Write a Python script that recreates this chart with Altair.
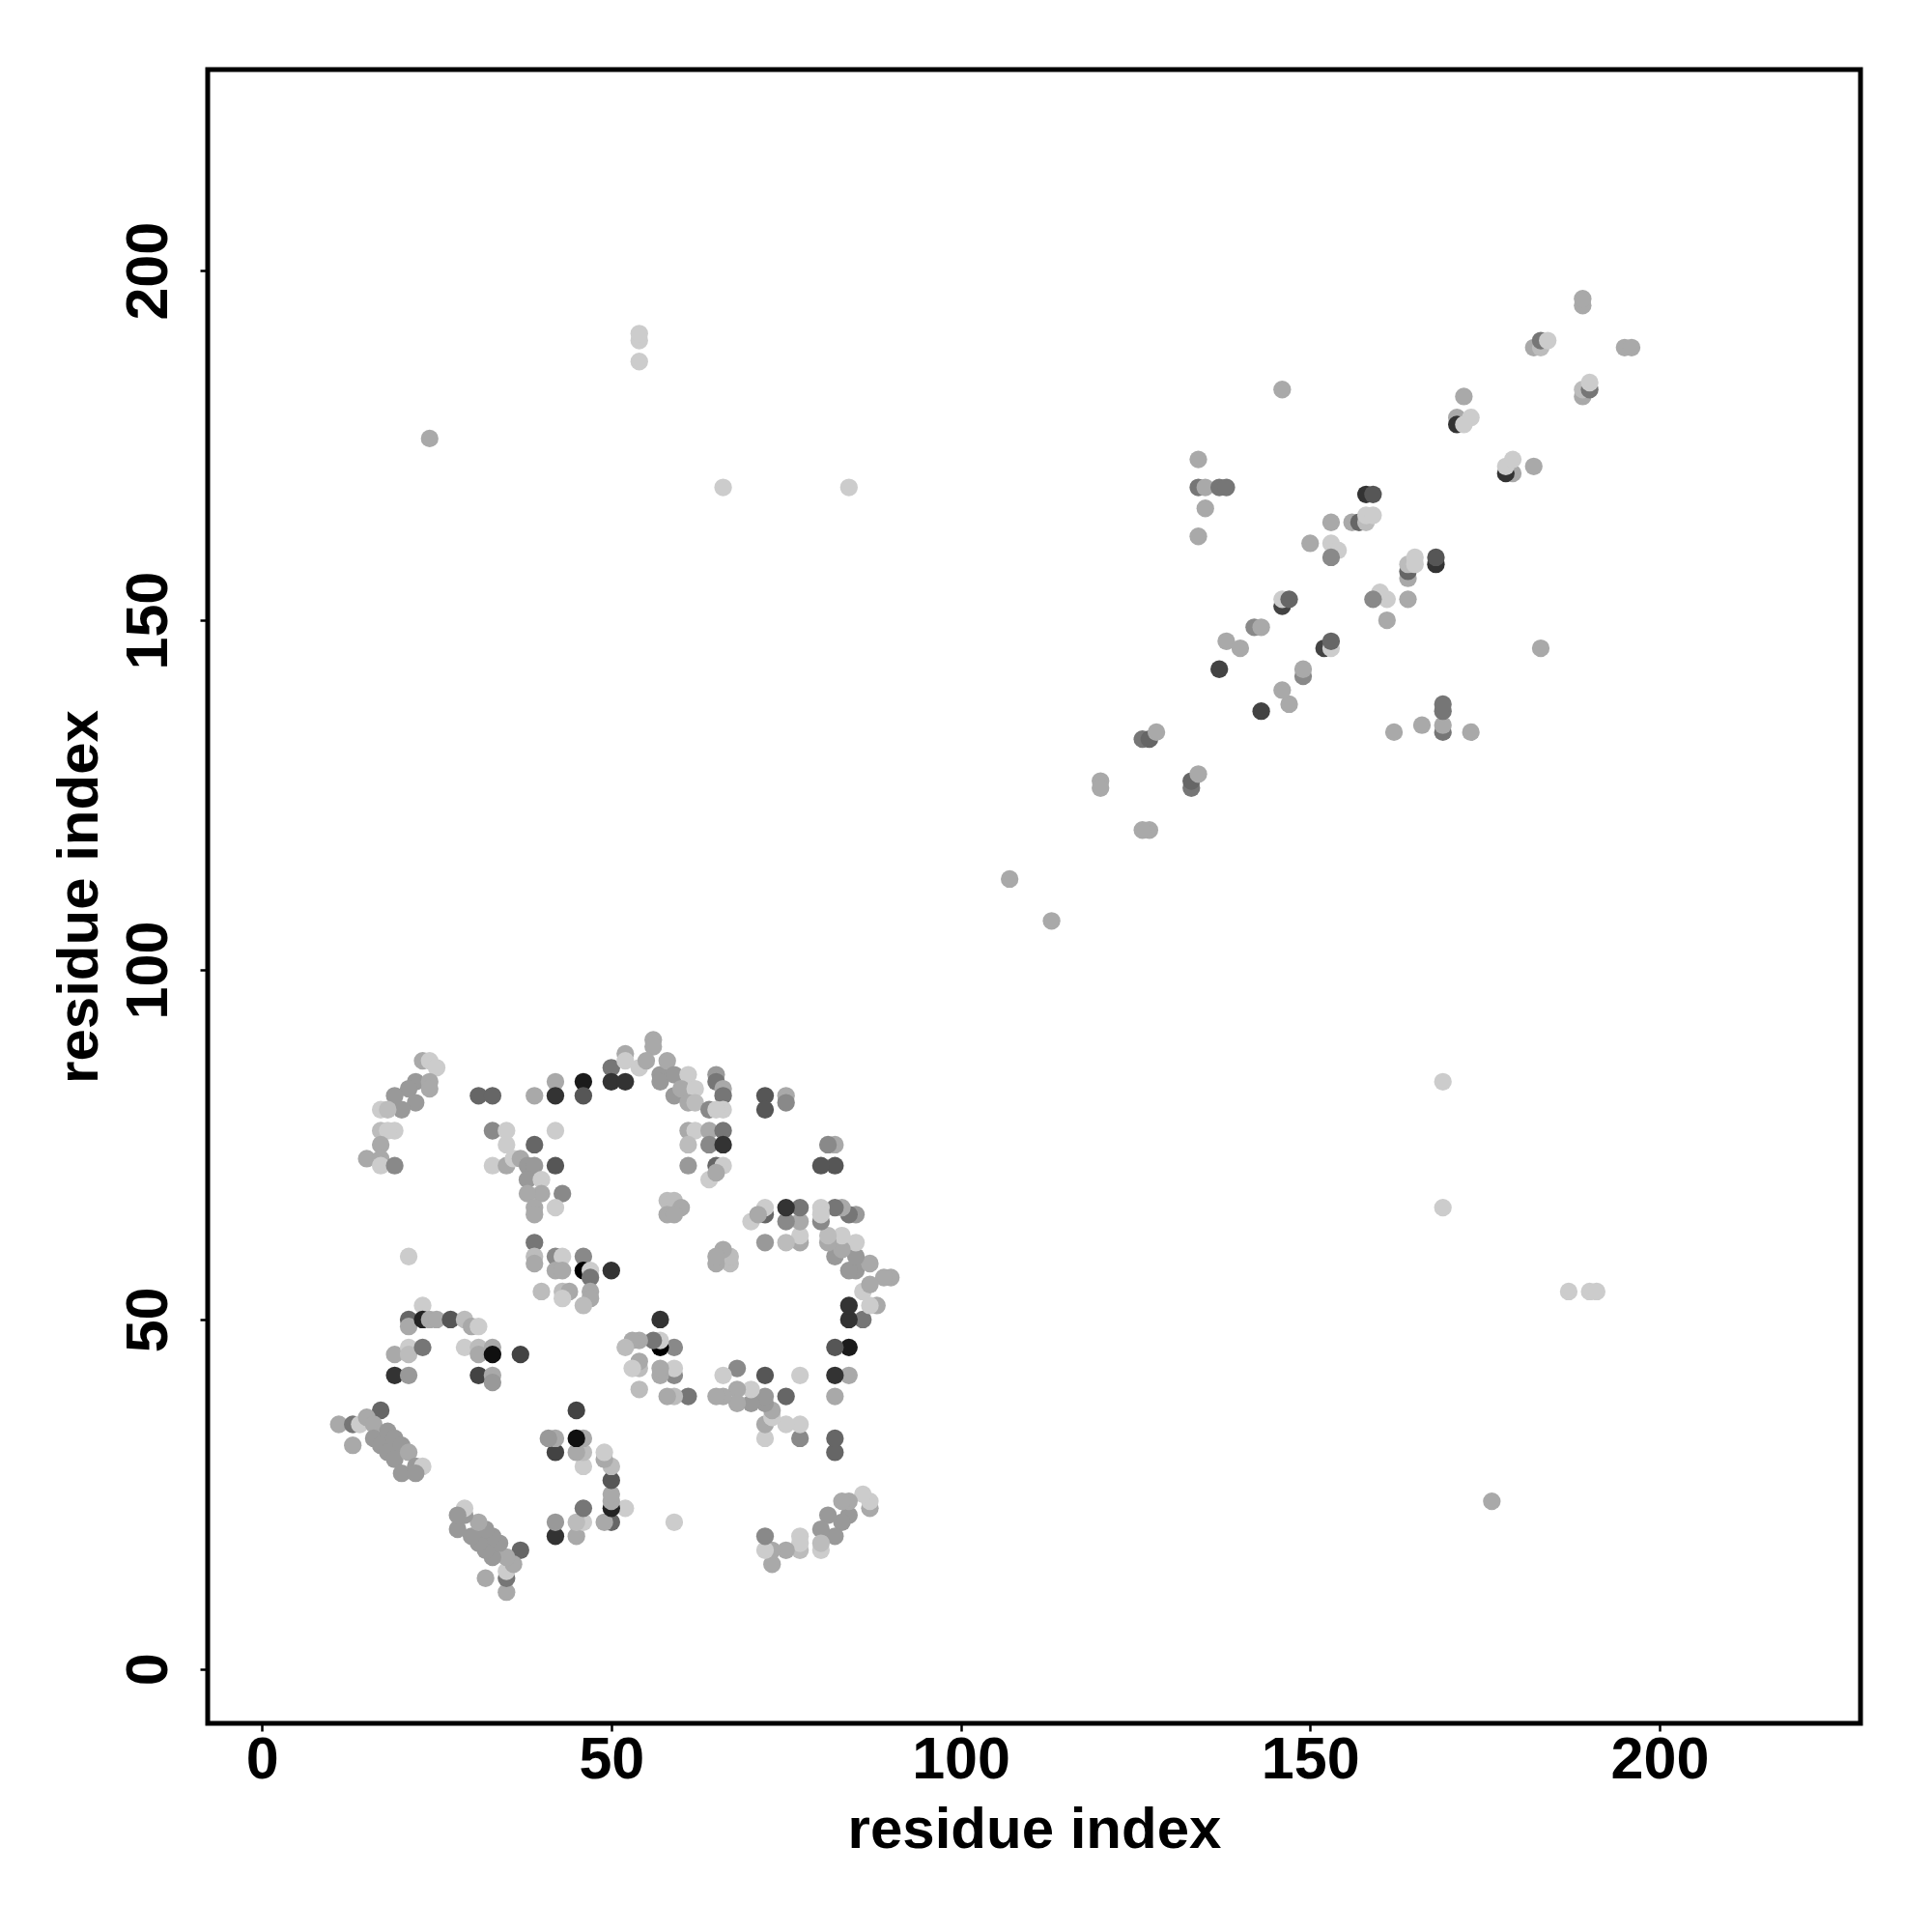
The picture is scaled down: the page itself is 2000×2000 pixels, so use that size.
import altair as alt
import pandas as pd

# Contact map (symmetric): each contact listed once as (res_i < res_j) with a score
res_i = [23, 24, 25, 22, 24, 24, 21, 19, 22, 20, 17, 18, 17, 19, 18, 17, 15, 17, 17, 19,
         31, 33, 39, 42, 42, 46, 46, 50, 50, 33, 35, 35, 39, 42, 33, 35, 36, 37, 38, 39,
         42, 38, 40, 40, 43, 38, 42, 39, 39, 39, 39, 39, 42, 43, 46, 42, 43, 46, 47, 47,
         50, 40, 43, 44, 47, 47, 43, 46, 21, 23,
         56, 56, 52, 52, 52, 54, 55, 57, 58, 57, 59, 59, 61, 60, 62, 61, 62, 64, 65, 65,
         66, 66, 66, 65, 61, 62, 64, 66, 61, 64, 66, 61, 65, 66, 64, 65, 72, 72, 75, 75,
         58, 59, 60, 58, 59,
         21, 21, 23, 24, 25, 27, 29, 30, 31, 19, 21, 21, 23, 19, 21, 29, 31, 31, 33, 33,
         37, 31, 33, 33, 17, 11, 13, 14, 15, 16, 13, 16, 18, 17, 19, 18, 20, 19, 21, 20,
         22, 23, 22,
         107, 120, 120, 126, 127, 128, 134, 135, 134, 134, 135, 137, 138, 137, 138, 140,
         142, 143, 146, 146, 147, 150, 153, 154, 153, 153, 156, 157, 158, 158, 159, 158,
         159, 146, 171, 171, 172, 173, 172, 182, 183, 183, 184, 189, 189,
         24, 54, 54, 54, 66, 84]

res_j = [87, 87, 86, 84, 84, 83, 83, 82, 81, 80, 80, 80, 77, 77, 77, 75, 73, 73, 72, 72,
         82, 82, 82, 84, 82, 84, 82, 86, 84, 77, 77, 75, 75, 77, 72, 72, 73, 73, 72, 72,
         72, 70, 70, 68, 68, 68, 66, 66, 65, 61, 59, 58, 59, 59, 59, 57, 57, 57, 57, 56,
         57, 54, 54, 54, 54, 53, 53, 52, 59, 52,
         90, 89, 88, 87, 84, 86, 87, 85, 87, 84, 85, 82, 85, 83, 83, 81, 81, 80, 85, 84,
         83, 82, 80, 80, 77, 77, 77, 77, 75, 75, 75, 72, 72, 72, 70, 71, 82, 80, 82, 81,
         67, 67, 66, 65, 65,
         50, 49, 50, 50, 50, 50, 50, 49, 49, 45, 46, 45, 46, 42, 42, 46, 46, 45, 46, 45,
         45, 42, 42, 41, 37, 35, 35, 35, 36, 35, 32, 33, 34, 32, 33, 31, 32, 30, 31, 28,
         29, 29, 28,
         113, 127, 126, 133, 133, 134, 162, 166, 173, 169, 169, 169, 169, 143, 147, 146,
         149, 149, 152, 153, 153, 161, 161, 160, 159, 164, 164, 164, 164, 165, 165, 168,
         168, 183, 179, 178, 178, 179, 182, 189, 189, 190, 190, 195, 196,
         176, 187, 190, 191, 169, 169]

score = [0.17, 0.00, 0.00, 0.25, 0.17, 0.17, 0.25, 0.25, 0.25, 0.25, 0.00, 0.08, 0.08, 0.00, 0.00, 0.17, 0.17, 0.17, 0.00, 0.33,
         0.50, 0.50, 0.17, 0.17, 0.75, 0.87, 0.58, 0.42, 0.75, 0.33, 0.00, 0.00, 0.50, 0.00, 0.00, 0.17, 0.00, 0.17, 0.25, 0.25,
         0.58, 0.25, 0.00, 0.17, 0.33, 0.17, 0.00, 0.17, 0.17, 0.42, 0.08, 0.17, 0.33, 0.00, 0.33, 0.17, 0.17, 1.00, 0.00, 0.42,
         0.75, 0.08, 0.08, 0.17, 0.17, 0.17, 0.00, 0.08, 0.00, 0.00,
         0.17, 0.17, 0.17, 0.00, 0.75, 0.00, 0.17, 0.25, 0.17, 0.25, 0.25, 0.25, 0.00, 0.17, 0.00, 0.17, 0.08, 0.33, 0.25, 0.42,
         0.17, 0.42, 0.00, 0.00, 0.17, 0.00, 0.17, 0.42, 0.08, 0.33, 0.75, 0.25, 0.50, 0.00, 0.00, 0.17, 0.58, 0.58, 0.17, 0.33,
         0.08, 0.08, 0.17, 0.17, 0.17,
         0.50, 0.17, 0.83, 0.17, 0.17, 0.58, 0.08, 0.17, 0.00, 0.17, 0.00, 0.08, 0.42, 0.75, 0.25, 0.00, 0.08, 0.17, 0.17, 0.92,
         0.67, 0.67, 0.17, 0.25, 0.50, 0.17, 0.42, 0.00, 0.17, 0.17, 0.17, 0.25, 0.25, 0.25, 0.25, 0.25, 0.25, 0.25, 0.17, 0.25,
         0.25, 0.00, 0.25,
         0.17, 0.17, 0.17, 0.42, 0.50, 0.17, 0.17, 0.17, 0.17, 0.42, 0.17, 0.42, 0.42, 0.67, 0.17, 0.17,
         0.33, 0.17, 0.67, 0.00, 0.50, 0.17, 0.00, 0.00, 0.33, 0.17, 0.17, 0.50, 0.08, 0.00, 0.00, 0.75,
         0.58, 0.17, 0.17, 0.75, 0.00, 0.00, 0.17, 0.17, 0.08, 0.42, 0.00, 0.17, 0.17,
         0.17, 0.00, 0.00, 0.00, 0.00, 0.00]

tick_values = [0, 50, 100, 150, 200]

rows = []
for a, b, s in zip(res_i, res_j, score):
    rows.append({"x": a, "y": b, "score": s})
    rows.append({"x": b, "y": a, "score": s})
df = pd.DataFrame(rows)
df["order"] = range(len(df))

dom = [-7.76, 228.76]
FONT = "Liberation Sans"
W = 1711
H = 1712

x_axis = alt.Axis(
    values=tick_values, title="residue index", grid=False, domain=False,
    ticks=True, tickSize=8, tickWidth=2.5, tickColor="black",
    labelFont=FONT, labelFontSize=61, labelFontWeight="bold", labelColor="black",
    labelPadding=0, labelBaseline="top", labelAlign="center", labelFlush=False,
    labelOverlap=False,
    titleFont=FONT, titleFontSize=60, titleFontWeight="bold", titleColor="black",
    titleX=W / 2, titleY=128, titleAlign="center", titleBaseline="alphabetic",
)
y_axis = alt.Axis(
    values=tick_values, title="residue index", grid=False, domain=False,
    ticks=True, tickSize=8, tickWidth=2.5, tickColor="black",
    labelFont=FONT, labelFontSize=61, labelFontWeight="bold", labelColor="black",
    labelAngle=270, labelAlign="center", labelBaseline="alphabetic",
    labelPadding=35, labelFlush=False, labelOverlap=False,
    titleFont=FONT, titleFontSize=60, titleFontWeight="bold", titleColor="black",
    titleAngle=270, titleX=-115, titleY=H / 2, titleAlign="center",
    titleBaseline="alphabetic",
)

chart = (
    alt.Chart(df)
    .mark_circle(size=335, opacity=1, strokeWidth=0)
    .encode(
        x=alt.X("x:Q", scale=alt.Scale(domain=dom, nice=False, zero=False), axis=x_axis),
        y=alt.Y("y:Q", scale=alt.Scale(domain=dom, nice=False, zero=False), axis=y_axis),
        color=alt.Color(
            "score:Q",
            scale=alt.Scale(domain=[0, 1], range=["#cccccc", "#000000"], interpolate="rgb"),
            legend=None,
        ),
        order=alt.Order("order:Q"),
    )
    .properties(
        width=W,
        height=H,
        autosize=alt.AutoSizeParams(type="none"),
        padding={"left": 207, "top": 64, "right": 60, "bottom": 210},
        background="white",
    )
    .configure_view(stroke="black", strokeWidth=5)
)

chart.save("out.html", embed_options={"renderer": "svg", "actions": False})
